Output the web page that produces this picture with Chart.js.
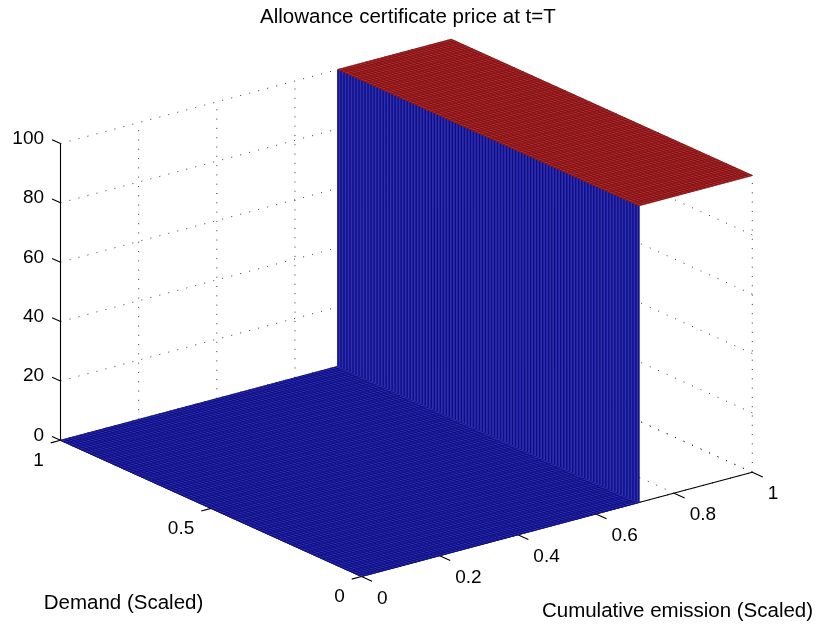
<!DOCTYPE html>
<html>
<head>
<meta charset="utf-8">
<style>
  html, body { margin: 0; padding: 0; background: #ffffff; }
  #wrap { width: 822px; height: 626px; position: relative; }
  canvas { display: block; }
</style>
<script src="https://cdn.jsdelivr.net/npm/chart.js@4.4.1/dist/chart.umd.min.js"></script>
</head>
<body>
<div id="wrap"><canvas id="chart" width="822" height="626"></canvas></div>
<script>
// ------------------------------------------------------------------
// DATA
// ------------------------------------------------------------------
const titleText = 'Allowance certificate price at t=T';
const emissionAxisTitle = 'Cumulative emission (Scaled)';
const demandAxisTitle = 'Demand (Scaled)';

const emissionTicks = [0, 0.2, 0.4, 0.6, 0.8, 1];
const emissionTickLabels = ['0', '0.2', '0.4', '0.6', '0.8', '1'];
const demandTicks = [0, 0.5, 1];
const demandTickLabels = ['0', '0.5', '1'];
const priceTicks = [0, 20, 40, 60, 80, 100];
const priceTickLabels = ['0', '20', '40', '60', '80', '100'];

const emissionRange = [0, 1];
const demandRange = [0, 1];
const priceRange = [0, 100];

// Price surface profile along cumulative emission (identical for every demand level)
const emissionKnots = [0, 0.71, 0.71, 1];
const priceAtKnots  = [0, 0, 100, 100];

// ------------------------------------------------------------------
// VIEW / STYLE
// ------------------------------------------------------------------
// orthographic 3-D view: plot-plane position of the origin and of one unit along each axis
const view = {
  origin:   [361.5, 576.5],
  emission: [390.8, -104.2],
  demand:   [-301.0, -136.2],
  price:    [0, -2.968]
};
const plane = { xMin: 0, xMax: 822, yMin: 0, yMax: 626 };
const meshStep = 0.01;             // surface grid resolution (edge lines)
const FONT = "'Liberation Sans', Arial, Helvetica, sans-serif";
const tickFont = 19;
const labelFont = 20.5;

const lowColor  = { fill: 'rgb(46,46,178)', edge: 'rgba(8,8,120,0.85)' };
const highColor = { fill: 'rgb(178,46,46)', edge: 'rgba(120,12,16,0.85)' };
function colormap(p) { return p >= (priceRange[0] + priceRange[1]) / 2 ? highColor : lowColor; }

function project(e, d, p) {
  return {
    x: view.origin[0] + e * view.emission[0] + d * view.demand[0] + p * view.price[0],
    y: view.origin[1] + e * view.emission[1] + d * view.demand[1] + p * view.price[1]
  };
}
const GAP = { x: NaN, y: NaN };

function segmentsData(segs) {
  const out = [];
  segs.forEach((s, i) => {
    if (i > 0) out.push(GAP);
    s.forEach(pt => out.push(project(pt[0], pt[1], pt[2])));
  });
  return out;
}
function range(a, b, step) {
  const out = [];
  const n = Math.round((b - a) / step);
  for (let i = 0; i <= n; i++) out.push(+(a + i * step).toFixed(6));
  return out;
}

const paintOrder = [];   // back to front
function addLines(segs, color, width, dash) {
  paintOrder.push({
    data: segmentsData(segs), showLine: true, spanGaps: false, pointRadius: 0,
    borderColor: color, borderWidth: width, borderDash: dash || [], fill: false,
    borderCapStyle: 'butt'
  });
}
function addPolygon(corners, fillColor) {
  const pts = corners.concat([corners[0]]).map(c => project(c[0], c[1], c[2]));
  paintOrder.push({
    data: pts, showLine: true, pointRadius: 0, borderColor: fillColor, borderWidth: 0.6,
    backgroundColor: fillColor, fill: 'shape'
  });
}

// ---- grid lines on the back planes (dotted) ----
const gridSegs = [];
const [e0, e1] = emissionRange, [d0, d1] = demandRange, [p0, p1] = priceRange;
priceTicks.forEach(p => { gridSegs.push([[e0, d1, p], [e1, d1, p]]); gridSegs.push([[e1, d0, p], [e1, d1, p]]); });
emissionTicks.forEach(e => { gridSegs.push([[e, d1, p0], [e, d1, p1]]); gridSegs.push([[e, d0, p0], [e, d1, p0]]); });
demandTicks.forEach(d => { gridSegs.push([[e1, d, p0], [e1, d, p1]]); gridSegs.push([[e0, d, p0], [e1, d, p0]]); });
addLines(gridSegs, 'rgba(0,0,0,0.8)', 1, [1, 8.3]);

// ---- axis lines and tick marks ----
const zTickLen = 0.028, dTickLen = 0.025, eTickLen = 0.035;
const axisSegs = [
  [[e0, d1, p0], [e0, d1, p1]],
  [[e0, d0, p0], [e0, d1, p0]],
  [[e0, d0, p0], [e1, d0, p0]]
];
priceTicks.forEach(p => axisSegs.push([[e0, d1, p], [e0, d1 + zTickLen, p]]));
demandTicks.forEach(d => axisSegs.push([[e0, d, p0], [e0 - dTickLen, d, p0]]));
emissionTicks.forEach(e => axisSegs.push([[e, d0, p0], [e, d0 - eTickLen, p0]]));
addLines(axisSegs, '#000000', 1.1);

// ---- surface patches (floor, wall, top) with their mesh edges ----
const demandMesh = range(d0, d1, meshStep);
for (let i = 0; i < emissionKnots.length - 1; i++) {
  const ea = emissionKnots[i], eb = emissionKnots[i + 1];
  const pa = priceAtKnots[i], pb = priceAtKnots[i + 1];
  const col = colormap(Math.min(pa, pb));
  addPolygon([[ea, d0, pa], [eb, d0, pb], [eb, d1, pb], [ea, d1, pa]], col.fill);
  const mesh = [];
  demandMesh.forEach(d => mesh.push([[ea, d, pa], [eb, d, pb]]));
  if (eb > ea) {
    range(ea, eb, meshStep).forEach(e => {
      const p = pa + (pb - pa) * (e - ea) / (eb - ea);
      mesh.push([[e, d0, p], [e, d1, p]]);
    });
  }
  addLines(mesh, col.edge, eb > ea ? 0.9 : 1.4);
}

// ------------------------------------------------------------------
// TEXT (title, tick labels, axis titles)
// ------------------------------------------------------------------
const textPlugin = {
  id: 'axes3dText',
  afterDatasetsDraw(chart) {
    const ctx = chart.ctx, sx = chart.scales.x, sy = chart.scales.y;
    const px = pt => ({ x: sx.getPixelForValue(pt.x), y: sy.getPixelForValue(pt.y) });
    ctx.save();
    ctx.fillStyle = '#000000';
    ctx.textBaseline = 'alphabetic';
    ctx.font = tickFont + 'px ' + FONT;
    // price (vertical) axis
    ctx.textAlign = 'right';
    priceTicks.forEach((p, i) => {
      const t = px(project(e0, d1 + zTickLen, p));
      ctx.fillText(priceTickLabels[i], t.x - 8, t.y + 4.3);
    });
    // demand axis
    demandTicks.forEach((d, i) => {
      const t = px(project(e0 - dTickLen, d, p0));
      ctx.fillText(demandTickLabels[i], t.x - 7, t.y + 22.8);
    });
    // emission axis
    ctx.textAlign = 'left';
    emissionTicks.forEach((e, i) => {
      const t = px(project(e, d0 - eTickLen, p0));
      ctx.fillText(emissionTickLabels[i], t.x + 5, t.y + 22.4);
    });
    // axis titles
    ctx.font = labelFont + 'px ' + FONT;
    ctx.textAlign = 'center';
    const dm = px(project(e0, (d0 + d1) / 2, p0));
    ctx.fillText(demandAxisTitle, dm.x - 87.5, dm.y + 101);
    const em = px(project((e0 + e1) / 2, d0, p0));
    ctx.fillText(emissionAxisTitle, em.x + 120.6, em.y + 92.3);
    // title, centred over the projected box
    const left = px(project(e0, d1, p0)), right = px(project(e1, d0, p0));
    ctx.fillText(titleText, (left.x + right.x) / 2 + 1.5, 22.5);
    ctx.restore();
  }
};

const datasets = paintOrder.slice().reverse();   // Chart.js paints dataset 0 last (on top)

new Chart(document.getElementById('chart'), {
  type: 'scatter',
  data: { datasets },
  options: {
    responsive: false,
    animation: false,
    events: [],
    layout: { padding: 0 },
    plugins: { legend: { display: false }, title: { display: false }, tooltip: { enabled: false } },
    scales: {
      x: { type: 'linear', min: plane.xMin, max: plane.xMax, display: false },
      y: { type: 'linear', min: plane.yMin, max: plane.yMax, reverse: true, display: false }
    }
  },
  plugins: [textPlugin]
});
</script>
</body>
</html>
